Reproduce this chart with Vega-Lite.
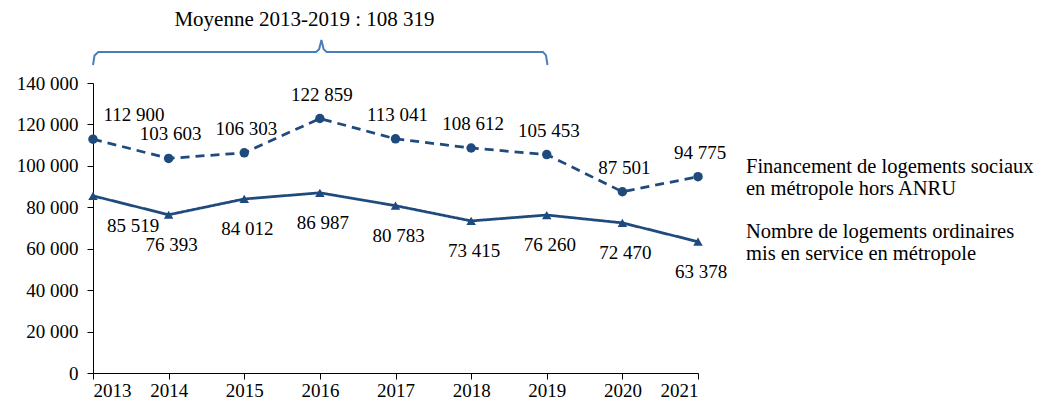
{
  "$schema": "https://vega.github.io/schema/vega-lite/v6.json",
  "width": 605,
  "height": 290,
  "autosize": "none",
  "padding": {"left": 93, "top": 83, "right": 350, "bottom": 42},
  "background": "white",
  "title": {
    "text": "Moyenne 2013-2019 : 108 319",
    "font": "Liberation Serif",
    "fontSize": 21,
    "fontWeight": "normal",
    "color": "black",
    "anchor": "middle",
    "dx": -91,
    "offset": 6
  },
  "config": {
    "font": "Liberation Serif",
    "view": {"stroke": null},
    "locale": {"number": {"decimal": ",", "thousands": "\u00a0", "grouping": [3], "currency": ["", " €"]}},
    "axis": {
      "domainColor": "black",
      "tickColor": "black",
      "labelColor": "black",
      "labelFont": "Liberation Serif",
      "labelFontSize": 19,
      "grid": false,
      "title": null,
      "tickSize": 6,
      "domainWidth": 1,
      "tickWidth": 1
    }
  },
  "datasets": {
    "logements": [
      {"annee": 2013, "serie": "Financement de logements sociaux\nen métropole hors ANRU", "valeur": 112900},
      {"annee": 2014, "serie": "Financement de logements sociaux\nen métropole hors ANRU", "valeur": 103603},
      {"annee": 2015, "serie": "Financement de logements sociaux\nen métropole hors ANRU", "valeur": 106303},
      {"annee": 2016, "serie": "Financement de logements sociaux\nen métropole hors ANRU", "valeur": 122859},
      {"annee": 2017, "serie": "Financement de logements sociaux\nen métropole hors ANRU", "valeur": 113041},
      {"annee": 2018, "serie": "Financement de logements sociaux\nen métropole hors ANRU", "valeur": 108612},
      {"annee": 2019, "serie": "Financement de logements sociaux\nen métropole hors ANRU", "valeur": 105453},
      {"annee": 2020, "serie": "Financement de logements sociaux\nen métropole hors ANRU", "valeur": 87501},
      {"annee": 2021, "serie": "Financement de logements sociaux\nen métropole hors ANRU", "valeur": 94775},
      {"annee": 2013, "serie": "Nombre de logements ordinaires\nmis en service en métropole", "valeur": 85519},
      {"annee": 2014, "serie": "Nombre de logements ordinaires\nmis en service en métropole", "valeur": 76393},
      {"annee": 2015, "serie": "Nombre de logements ordinaires\nmis en service en métropole", "valeur": 84012},
      {"annee": 2016, "serie": "Nombre de logements ordinaires\nmis en service en métropole", "valeur": 86987},
      {"annee": 2017, "serie": "Nombre de logements ordinaires\nmis en service en métropole", "valeur": 80783},
      {"annee": 2018, "serie": "Nombre de logements ordinaires\nmis en service en métropole", "valeur": 73415},
      {"annee": 2019, "serie": "Nombre de logements ordinaires\nmis en service en métropole", "valeur": 76260},
      {"annee": 2020, "serie": "Nombre de logements ordinaires\nmis en service en métropole", "valeur": 72470},
      {"annee": 2021, "serie": "Nombre de logements ordinaires\nmis en service en métropole", "valeur": 63378}
    ],
    "accolade": [
      {"annee": 2013.0, "valeur": 148700},
      {"annee": 2013.02, "valeur": 153300},
      {"annee": 2013.07, "valeur": 155000},
      {"annee": 2015.95, "valeur": 155000},
      {"annee": 2015.99, "valeur": 156300},
      {"annee": 2016.02, "valeur": 160800},
      {"annee": 2016.05, "valeur": 156300},
      {"annee": 2016.09, "valeur": 155000},
      {"annee": 2018.95, "valeur": 155000},
      {"annee": 2018.99, "valeur": 153300},
      {"annee": 2019.01, "valeur": 148700}
    ]
  },
  "encoding": {
    "x": {
      "field": "annee",
      "type": "quantitative",
      "scale": {"domain": [2013, 2021], "nice": false, "zero": false},
      "axis": {"values": [2013, 2014, 2015, 2016, 2017, 2018, 2019, 2020, 2021], "format": "d", "labelPadding": 2}
    },
    "y": {
      "field": "valeur",
      "type": "quantitative",
      "scale": {"domain": [0, 140000], "nice": false},
      "axis": {"values": [0, 20000, 40000, 60000, 80000, 100000, 120000, 140000], "format": ",.0f", "labelPadding": 9}
    }
  },
  "layer": [
    {
      "data": {"name": "accolade"},
      "mark": {"type": "line", "color": "#4A7EBB", "strokeWidth": 2, "clip": false},
      "encoding": {}
    },
    {
      "data": {"name": "logements"},
      "mark": {"type": "line", "color": "#1F4A7E", "strokeWidth": 2.75},
      "encoding": {
        "strokeDash": {
          "field": "serie",
          "type": "nominal",
          "scale": {"domain": ["Financement de logements sociaux\nen métropole hors ANRU", "Nombre de logements ordinaires\nmis en service en métropole"], "range": [[9, 6], [1, 0]]},
          "legend": null
        }
      }
    },
    {
      "data": {"name": "logements"},
      "mark": {"type": "point", "filled": true, "opacity": 1, "color": "#1F4A7E", "size": 90},
      "encoding": {
        "shape": {
          "field": "serie",
          "type": "nominal",
          "scale": {"domain": ["Financement de logements sociaux\nen métropole hors ANRU", "Nombre de logements ordinaires\nmis en service en métropole"], "range": ["circle", "triangle-up"]},
          "legend": null
        }
      }
    },
    {
      "data": {"name": "logements"},
      "transform": [{"filter": "indexof(datum.serie, 'Financement') === 0 && datum.annee !== 2013"}],
      "mark": {"type": "text", "fontSize": 19, "color": "black", "dy": -24, "dx": 2, "baseline": "middle"},
      "encoding": {"text": {"field": "valeur", "type": "quantitative", "format": ",.0f"}}
    },
    {
      "data": {"name": "logements"},
      "transform": [{"filter": "indexof(datum.serie, 'Financement') === 0 && datum.annee === 2013"}],
      "mark": {"type": "text", "fontSize": 19, "color": "black", "dy": -24, "dx": 41, "baseline": "middle"},
      "encoding": {"text": {"field": "valeur", "type": "quantitative", "format": ",.0f"}}
    },
    {
      "data": {"name": "logements"},
      "transform": [{"filter": "indexof(datum.serie, 'Nombre') === 0 && datum.annee !== 2013"}],
      "mark": {"type": "text", "fontSize": 19, "color": "black", "dy": 30, "dx": 3, "baseline": "middle"},
      "encoding": {"text": {"field": "valeur", "type": "quantitative", "format": ",.0f"}}
    },
    {
      "data": {"name": "logements"},
      "transform": [{"filter": "indexof(datum.serie, 'Nombre') === 0 && datum.annee === 2013"}],
      "mark": {"type": "text", "fontSize": 19, "color": "black", "dy": 30, "dx": 40, "baseline": "middle"},
      "encoding": {"text": {"field": "valeur", "type": "quantitative", "format": ",.0f"}}
    },
    {
      "data": {"name": "logements"},
      "transform": [
        {"filter": "datum.annee === 2021"},
        {"calculate": "split(datum.serie, '\\n')", "as": "lignes"}
      ],
      "mark": {"type": "text", "fontSize": 20.5, "color": "black", "align": "left", "baseline": "middle", "dx": 48, "dy": -10, "lineHeight": 22},
      "encoding": {"text": {"field": "lignes", "type": "nominal"}}
    }
  ]
}
